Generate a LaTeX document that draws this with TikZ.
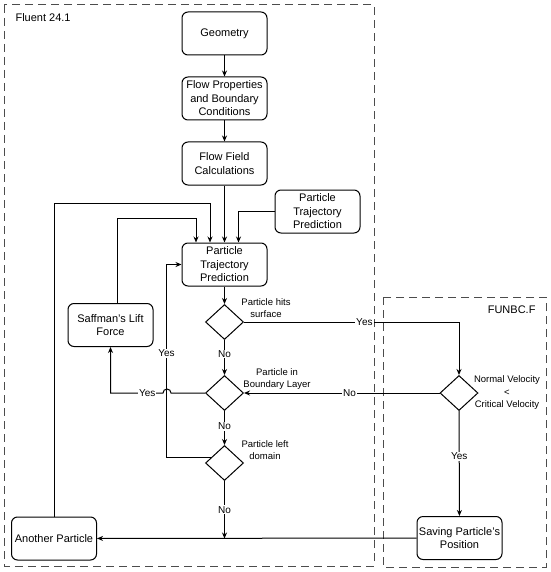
\documentclass[tikz,border=0pt]{standalone}
\usepackage{fontspec}
\setmainfont{Liberation Sans}
\usetikzlibrary{
    arrows.meta,
    positioning,
    shapes.geometric
}
\tikzset{
  box/.style      = {draw, rounded corners=6pt, minimum width=85pt,
                     minimum height=43pt, align=center, inner sep=1pt,
                     line width=1pt, font=\fontsize{11}{13.5}\selectfont},
  decision/.style = {draw, diamond, minimum width=38pt, line width=1pt,
                     minimum height=35pt, inner sep=0pt},
  note/.style     = {align=center, font=\fontsize{9.5}{12}\selectfont},
  lbl/.style      = {fill=white, inner sep=1pt, font=\fontsize{10}{12}\selectfont},
  arr/.style      = {-{Stealth[length=6pt,width=5pt]}, line width=1pt},
  region/.style   = {draw=black!70, dash pattern=on 8pt off 5pt, line width=1pt}
}

\begin{document}
\begin{tikzpicture}[x=1pt, y=-1pt, node distance=21pt]
\useasboundingbox (0,0) rectangle (550,572);

% solver regions
\draw[region] (4,5) rectangle (374,566);
\draw[region] (383,297) rectangle (546,567);
\node[anchor=west, font=\fontsize{11}{13}\selectfont] (fluent) at (12,18) {Fluent 24.1};
\node[anchor=east, font=\fontsize{11}{13}\selectfont] (funbc) at (539,310) {FUNBC.F};

% main column
\node[box] (geom) at (224.5,33.5) {Geometry};
\node[box, below=of geom] (props) {Flow Properties\\and Boundary\\Conditions};
\node[box, below=of props] (field) {Flow Field\\Calculations};
\node[box, below=57pt of field] (track) {Particle\\Trajectory\\Prediction};
\node[box] (inject) at (317.5,211.5) {Particle\\Trajectory\\Prediction};

\node[decision] (hit) at (224.5,322) {};
\node[decision] (inlayer) at (224.5,393) {};
\node[decision] (left) at (224.5,463) {};
\node[note] at (266,308) {Particle hits\\surface};
\node[note] at (277,379) {Particle in\\Boundary Layer};
\node[note] at (265,450) {Particle left\\domain};

\node[box] (saff) at (110.5,325) {Saffman's Lift\\Force};
\node[box] (another) at (54,538.5) {Another Particle};

% wall model
\node[decision] (nv) at (459,393) {};
\node[note, font=\fontsize{9.5}{12.5}\selectfont] at (507,393) {Normal Velocity\\<\\Critical Velocity};
\node[box] (save) at (459.5,538) {Saving Particle's\\Position};

\draw[arr] (geom) -- (props);
\draw[arr] (props) -- (field);
\draw[arr] (field) -- (track);
\draw[arr] (inject.west) -| ([xshift=14pt]track.north);
\draw[arr] ([xshift=7pt]saff.north) -- ++(0,-85) -| ([xshift=-28.5pt]track.north);
\draw[arr] (another.north) -- ++(0,-313.5) -| ([xshift=-14.5pt]track.north);

\draw[arr] (track) -- (hit);
\draw[arr] (hit) -- node[lbl, pos=0.4]{No} (inlayer);
\draw[arr] (inlayer) -- node[lbl, pos=0.45]{No} (left);
\coordinate (drop) at (left |- another);
\draw[arr] (left) -- node[lbl]{No} (drop);

\draw[arr] (hit.east) -| node[lbl, pos=0.28]{Yes} (nv.north);
\draw[arr] (nv.west) -- node[lbl, pos=0.46]{No} (inlayer.east);
\draw[arr] (nv) -- node[lbl, pos=0.43]{Yes} (save);
\draw[arr] (save) -- (another);

\draw[arr] (inlayer.west) -- (171,393) arc[start angle=0, end angle=180, radius=4pt]
    -| node[lbl, pos=0.15]{Yes} (saff.south);
\draw[arr] (left.160) -| node[lbl, pos=0.77]{Yes} ([xshift=-15pt]track.west) -- (track.west);
\end{tikzpicture}
\end{document}
